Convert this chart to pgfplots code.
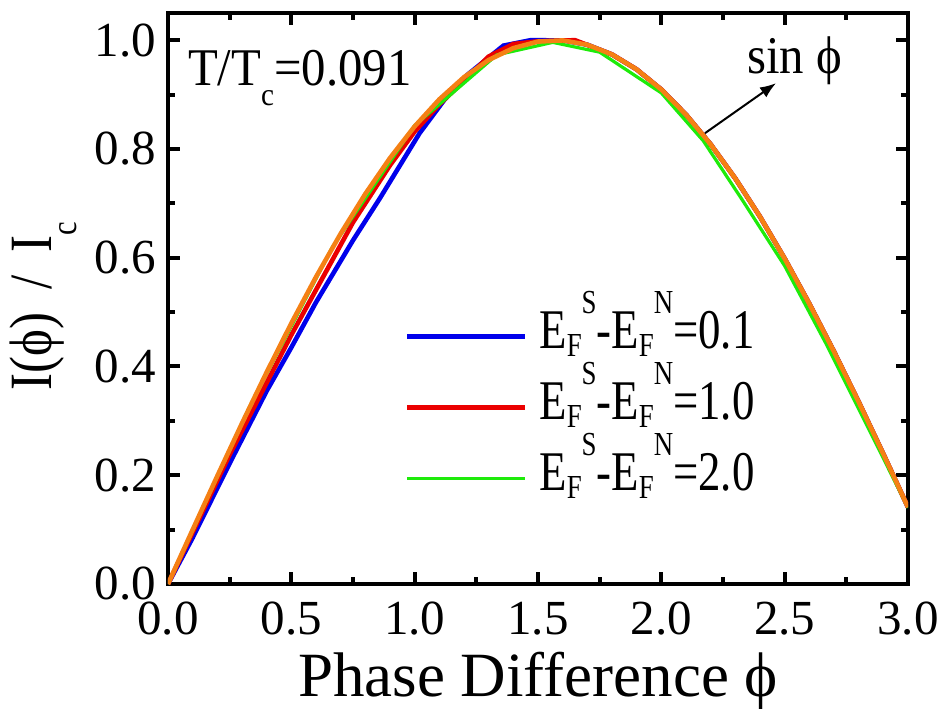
\documentclass[border=0pt]{standalone}
\usepackage{fontspec}
\setmainfont{Liberation Serif}
\usepackage{pgfplots}
\pgfplotsset{compat=1.18}
\usetikzlibrary{arrows.meta}
\definecolor{cblue}{RGB}{0,0,235}
\definecolor{cred}{RGB}{235,0,0}
\definecolor{cgreen}{RGB}{30,235,10}
\definecolor{corange}{RGB}{245,128,20}
\newcommand\lsub[2]{\raisebox{-#2}{\scalebox{0.6}{#1}}}
\newcommand\lsup[2]{\raisebox{#2}{\scalebox{0.6}{#1}}}
\newcommand\EFlab[1]{\scalebox{0.8}[1]{E\lsub{F}{0.15em}\lsup{S}{0.62em}-E\lsub{F}{0.15em}\lsup{N}{0.62em}=#1}}
\begin{document}
\begin{tikzpicture}
\begin{axis}[
  name=ax,
  at={(0,0)}, anchor=south west,
  width=370pt, height=285.5pt, scale only axis,
  xmin=0, xmax=3, ymin=0, ymax=1.05,
  xtick={0,0.5,1,1.5,2,2.5,3},
  ytick={0,0.2,0.4,0.6,0.8,1.0},
  minor x tick num=1, minor y tick num=1,
  tick align=inside, tick pos=both,
  major tick length=6pt, minor tick length=3.5pt,
  every tick/.style={black, line width=2pt},
  axis line style={line width=2.2pt},
  xticklabel style={yshift=-5.5pt, /pgf/number format/.cd, fixed, fixed zerofill, precision=1},
  yticklabel style={xshift=-2.5pt, /pgf/number format/.cd, fixed, fixed zerofill, precision=1},
  /pgf/number format/assume math mode=true,
  tick label style={font=\fontsize{24.5}{28}\selectfont},
  label style={font=\fontsize{31.5}{36}\selectfont},
  xlabel={Phase Difference ϕ},
  xlabel style={yshift=-1.5pt},
  ylabel={\fontsize{30}{34}\selectfont\scalebox{0.85}[1]{I(ϕ)\hspace{0.45em}/\hspace{0.45em}I\lsub{c}{0.42em}}},
  ylabel style={yshift=2pt, xshift=-4pt},
  legend style={draw=none, fill=none, inner sep=0pt, outer sep=0pt,
    at={(axis cs:0.96,0.325)}, anchor=west,
    font=\fontsize{28}{32}\selectfont,
    nodes={inner sep=0pt, text height=20pt, text depth=8pt},
    row sep=7.5pt,
    /tikz/every odd column/.append style={column sep=6pt}},
  legend cell align=left,
  legend image code/.code={\draw[#1] (0pt,0pt) -- (59pt,0pt);},
]
\addplot[cblue, line width=2.3pt] coordinates {
(0,0) (0.1,0.085) (0.25,0.222) (0.4,0.355) (0.5,0.435) (0.6,0.518) (0.75,0.632)
(0.86,0.71) (1.02,0.829) (1.12,0.89) (1.21,0.935) (1.36,0.99) (1.47,1.0)
(1.6,0.9996) (1.7,0.9917) (1.8,0.9738)
(1.9,0.9463) (2.0,0.9093) (2.1,0.8632) (2.2,0.8085) (2.3,0.7457) (2.4,0.6755)
(2.5,0.5985) (2.6,0.5155) (2.7,0.4274) (2.8,0.3350) (2.9,0.2392) (3.0,0.1411)};
\addlegendentry{\EFlab{0.1}}
\addplot[cred, line width=2.3pt] coordinates {
(0,0) (0.25,0.238) (0.5,0.458) (0.75,0.665) (0.9,0.77) (1.0,0.832) (1.1,0.882) (1.2,0.925)
(1.3,0.97) (1.4,0.993) (1.5,0.998) (1.65,1.0) (1.8,0.9738)
(1.9,0.9463) (2.0,0.9093) (2.1,0.8632) (2.2,0.8085) (2.3,0.7457) (2.4,0.6755)
(2.5,0.5985) (2.6,0.5155) (2.7,0.4274) (2.8,0.3350) (2.9,0.2392) (3.0,0.1411)};
\addlegendentry{\EFlab{1.0}}
\addplot[cgreen, line width=1.6pt] coordinates {
(0,0) (0.333,0.328) (0.667,0.62) (1.0,0.843) (1.333,0.973) (1.56,0.996)
(1.75,0.978) (2.0,0.903) (2.17,0.815) (2.33,0.705) (2.5,0.585) (2.67,0.44)
(2.83,0.295) (3.0,0.14)};
\addlegendentry{\EFlab{2.0}}
\addplot[corange, line width=2.3pt, forget plot] coordinates {
(0,0) (0.1,0.0998) (0.2,0.1987) (0.3,0.2955) (0.4,0.3894) (0.5,0.4794)
(0.6,0.5646) (0.7,0.6442) (0.8,0.7174) (0.9,0.7833) (1.0,0.8415)
(1.1,0.8912) (1.2,0.9320) (1.3,0.9636) (1.4,0.9854) (1.5,0.9975)
(1.6,0.9996) (1.7,0.9917) (1.8,0.9738) (1.9,0.9463) (2.0,0.9093)
(2.1,0.8632) (2.2,0.8085) (2.3,0.7457) (2.4,0.6755) (2.5,0.5985)
(2.6,0.5155) (2.7,0.4274) (2.8,0.3350) (2.9,0.2392) (3.0,0.1411)};
\node[anchor=base west, inner sep=0pt, font=\fontsize{26.5}{30}\selectfont]
  at (axis cs:0.08,0.917) {\scalebox{0.92}[1]{T/T\lsub{c}{0.38em}=0.091}};
\node[anchor=base west, inner sep=0pt, font=\fontsize{26.5}{30}\selectfont]
  at (axis cs:2.347,0.939) {\scalebox{0.92}[1]{sin ϕ}};
\draw[line width=1pt, -{Latex[length=8pt,width=6pt]}] (axis cs:2.177,0.829) -- (axis cs:2.465,0.921);
\end{axis}
\pgfresetboundingbox
\path[use as bounding box] (ax.south west) ++(-84pt,-62pt) rectangle ++(471pt,354pt);
\end{tikzpicture}
\end{document}
